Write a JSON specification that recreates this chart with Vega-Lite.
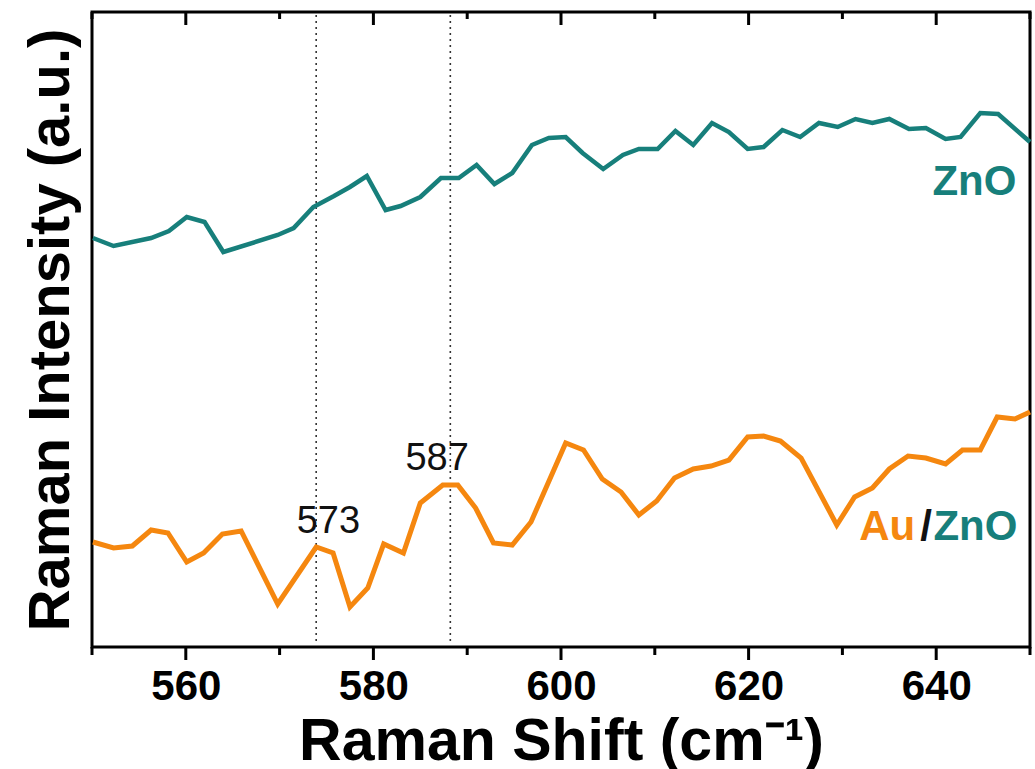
{
  "$schema": "https://vega.github.io/schema/vega-lite/v6.json",
  "width": 938,
  "height": 635,
  "autosize": "none",
  "padding": {"left": 92, "top": 12, "right": 5, "bottom": 122},
  "background": "white",
  "config": {
    "view": {"stroke": "#000", "strokeWidth": 3},
    "font": "Liberation Sans"
  },
  "datasets": {
    "spectra": [
      {"shift": 550.1, "intensity": 409, "sample": "ZnO"},
      {"shift": 552.3, "intensity": 401, "sample": "ZnO"},
      {"shift": 556.3, "intensity": 409, "sample": "ZnO"},
      {"shift": 558.2, "intensity": 416, "sample": "ZnO"},
      {"shift": 560.1, "intensity": 430, "sample": "ZnO"},
      {"shift": 562.0, "intensity": 425, "sample": "ZnO"},
      {"shift": 564.0, "intensity": 395, "sample": "ZnO"},
      {"shift": 569.8, "intensity": 412, "sample": "ZnO"},
      {"shift": 571.5, "intensity": 419, "sample": "ZnO"},
      {"shift": 573.6, "intensity": 440, "sample": "ZnO"},
      {"shift": 575.8, "intensity": 451, "sample": "ZnO"},
      {"shift": 577.5, "intensity": 460, "sample": "ZnO"},
      {"shift": 579.3, "intensity": 471, "sample": "ZnO"},
      {"shift": 581.3, "intensity": 437, "sample": "ZnO"},
      {"shift": 582.9, "intensity": 441, "sample": "ZnO"},
      {"shift": 585.0, "intensity": 450, "sample": "ZnO"},
      {"shift": 587.2, "intensity": 469, "sample": "ZnO"},
      {"shift": 589.1, "intensity": 469, "sample": "ZnO"},
      {"shift": 591.0, "intensity": 482, "sample": "ZnO"},
      {"shift": 592.9, "intensity": 463, "sample": "ZnO"},
      {"shift": 594.8, "intensity": 474, "sample": "ZnO"},
      {"shift": 596.9, "intensity": 502, "sample": "ZnO"},
      {"shift": 598.7, "intensity": 509, "sample": "ZnO"},
      {"shift": 600.5, "intensity": 510, "sample": "ZnO"},
      {"shift": 602.3, "intensity": 494, "sample": "ZnO"},
      {"shift": 604.5, "intensity": 478, "sample": "ZnO"},
      {"shift": 606.6, "intensity": 492, "sample": "ZnO"},
      {"shift": 608.3, "intensity": 498, "sample": "ZnO"},
      {"shift": 610.3, "intensity": 498, "sample": "ZnO"},
      {"shift": 612.2, "intensity": 516, "sample": "ZnO"},
      {"shift": 614.1, "intensity": 502, "sample": "ZnO"},
      {"shift": 616.1, "intensity": 524, "sample": "ZnO"},
      {"shift": 617.9, "intensity": 515, "sample": "ZnO"},
      {"shift": 619.9, "intensity": 498, "sample": "ZnO"},
      {"shift": 621.6, "intensity": 500, "sample": "ZnO"},
      {"shift": 623.6, "intensity": 517, "sample": "ZnO"},
      {"shift": 625.5, "intensity": 510, "sample": "ZnO"},
      {"shift": 627.5, "intensity": 524, "sample": "ZnO"},
      {"shift": 629.5, "intensity": 520, "sample": "ZnO"},
      {"shift": 631.4, "intensity": 528, "sample": "ZnO"},
      {"shift": 633.2, "intensity": 524, "sample": "ZnO"},
      {"shift": 635.0, "intensity": 528, "sample": "ZnO"},
      {"shift": 637.1, "intensity": 518, "sample": "ZnO"},
      {"shift": 638.9, "intensity": 519, "sample": "ZnO"},
      {"shift": 641.0, "intensity": 508, "sample": "ZnO"},
      {"shift": 642.6, "intensity": 510, "sample": "ZnO"},
      {"shift": 644.7, "intensity": 534, "sample": "ZnO"},
      {"shift": 646.6, "intensity": 533, "sample": "ZnO"},
      {"shift": 650.0, "intensity": 505, "sample": "ZnO"},
      {"shift": 550.1, "intensity": 105, "sample": "Au/ZnO"},
      {"shift": 552.3, "intensity": 99, "sample": "Au/ZnO"},
      {"shift": 554.3, "intensity": 101, "sample": "Au/ZnO"},
      {"shift": 556.3, "intensity": 117, "sample": "Au/ZnO"},
      {"shift": 558.1, "intensity": 114, "sample": "Au/ZnO"},
      {"shift": 560.1, "intensity": 85, "sample": "Au/ZnO"},
      {"shift": 561.9, "intensity": 94, "sample": "Au/ZnO"},
      {"shift": 563.9, "intensity": 113, "sample": "Au/ZnO"},
      {"shift": 565.9, "intensity": 116, "sample": "Au/ZnO"},
      {"shift": 569.8, "intensity": 43, "sample": "Au/ZnO"},
      {"shift": 573.9, "intensity": 100, "sample": "Au/ZnO"},
      {"shift": 575.7, "intensity": 94, "sample": "Au/ZnO"},
      {"shift": 577.5, "intensity": 40, "sample": "Au/ZnO"},
      {"shift": 579.4, "intensity": 59, "sample": "Au/ZnO"},
      {"shift": 581.1, "intensity": 103, "sample": "Au/ZnO"},
      {"shift": 583.2, "intensity": 94, "sample": "Au/ZnO"},
      {"shift": 585.0, "intensity": 144, "sample": "Au/ZnO"},
      {"shift": 587.4, "intensity": 162, "sample": "Au/ZnO"},
      {"shift": 589.0, "intensity": 162, "sample": "Au/ZnO"},
      {"shift": 590.9, "intensity": 139, "sample": "Au/ZnO"},
      {"shift": 592.8, "intensity": 104, "sample": "Au/ZnO"},
      {"shift": 594.8, "intensity": 102, "sample": "Au/ZnO"},
      {"shift": 596.8, "intensity": 125, "sample": "Au/ZnO"},
      {"shift": 600.5, "intensity": 204, "sample": "Au/ZnO"},
      {"shift": 602.4, "intensity": 197, "sample": "Au/ZnO"},
      {"shift": 604.4, "intensity": 168, "sample": "Au/ZnO"},
      {"shift": 606.4, "intensity": 155, "sample": "Au/ZnO"},
      {"shift": 608.3, "intensity": 132, "sample": "Au/ZnO"},
      {"shift": 610.2, "intensity": 146, "sample": "Au/ZnO"},
      {"shift": 612.1, "intensity": 169, "sample": "Au/ZnO"},
      {"shift": 614.1, "intensity": 178, "sample": "Au/ZnO"},
      {"shift": 616.0, "intensity": 181, "sample": "Au/ZnO"},
      {"shift": 617.9, "intensity": 187, "sample": "Au/ZnO"},
      {"shift": 619.9, "intensity": 210, "sample": "Au/ZnO"},
      {"shift": 621.6, "intensity": 211, "sample": "Au/ZnO"},
      {"shift": 623.4, "intensity": 206, "sample": "Au/ZnO"},
      {"shift": 625.6, "intensity": 189, "sample": "Au/ZnO"},
      {"shift": 629.4, "intensity": 122, "sample": "Au/ZnO"},
      {"shift": 631.3, "intensity": 150, "sample": "Au/ZnO"},
      {"shift": 633.2, "intensity": 159, "sample": "Au/ZnO"},
      {"shift": 635.0, "intensity": 178, "sample": "Au/ZnO"},
      {"shift": 637.0, "intensity": 191, "sample": "Au/ZnO"},
      {"shift": 638.9, "intensity": 189, "sample": "Au/ZnO"},
      {"shift": 641.0, "intensity": 183, "sample": "Au/ZnO"},
      {"shift": 642.8, "intensity": 197, "sample": "Au/ZnO"},
      {"shift": 644.7, "intensity": 197, "sample": "Au/ZnO"},
      {"shift": 646.5, "intensity": 230, "sample": "Au/ZnO"},
      {"shift": 648.4, "intensity": 228, "sample": "Au/ZnO"},
      {"shift": 650.0, "intensity": 235, "sample": "Au/ZnO"}
    ],
    "peaks": [
      {"shift": 573.9, "lo": 6, "hi": 635},
      {"shift": 588.2, "lo": 6, "hi": 635}
    ],
    "peakLabels": [
      {"shift": 575.2, "intensity": 114, "text": "573"},
      {"shift": 586.8, "intensity": 177, "text": "587"}
    ],
    "axisTicks": [
      {"value": 550, "major": false}, {"value": 560, "major": true}, {"value": 570, "major": false},
      {"value": 580, "major": true}, {"value": 590, "major": false}, {"value": 600, "major": true},
      {"value": 610, "major": false}, {"value": 620, "major": true}, {"value": 630, "major": false},
      {"value": 640, "major": true}, {"value": 650, "major": false}
    ]
  },
  "layer": [
    {
      "data": {"name": "peaks"},
      "mark": {"type": "rule", "color": "#333", "strokeWidth": 1.6, "strokeDash": [2, 4]},
      "encoding": {
        "x": {
          "field": "shift", "type": "quantitative",
          "scale": {"domain": [550, 650], "nice": false, "zero": false},
          "axis": {
            "orient": "bottom",
            "values": [560, 580, 600, 620, 640],
            "domain": false,
            "grid": false,
            "ticks": false,
            "labelFont": "Liberation Sans",
            "labelFontWeight": "bold",
            "labelFontSize": 42,
            "labelColor": "#000",
            "labelPadding": 19,
            "labelFlush": false,
            "labelOverlap": false,
            "title": "Raman Shift (cm⁻¹)",
            "titleFont": "Liberation Sans",
            "titleFontWeight": "bold",
            "titleFontSize": 59,
            "titleColor": "#000",
            "titlePadding": 5
          }
        },
        "y": {
          "field": "lo", "type": "quantitative",
          "scale": {"domain": [0, 635], "nice": false, "zero": false},
          "axis": {
            "orient": "left",
            "domain": false,
            "ticks": false,
            "labels": false,
            "grid": false,
            "title": "Raman Intensity (a.u.)",
            "titleFont": "Liberation Sans",
            "titleFontWeight": "bold",
            "titleFontSize": 58,
            "titleColor": "#000",
            "titlePadding": 12
          }
        },
        "y2": {"field": "hi"}
      }
    },
    {
      "data": {"name": "axisTicks"},
      "transform": [{"filter": "datum.major"}],
      "mark": {"type": "rule", "color": "#000", "strokeWidth": 3},
      "encoding": {
        "x": {"field": "value", "type": "quantitative"},
        "y": {"datum": 635, "type": "quantitative"},
        "y2": {"datum": 622}
      }
    },
    {
      "data": {"name": "axisTicks"},
      "transform": [{"filter": "!datum.major"}],
      "mark": {"type": "rule", "color": "#000", "strokeWidth": 3},
      "encoding": {
        "x": {"field": "value", "type": "quantitative"},
        "y": {"datum": 635, "type": "quantitative"},
        "y2": {"datum": 628}
      }
    },
    {
      "data": {"name": "axisTicks"},
      "transform": [{"filter": "datum.major"}],
      "mark": {"type": "rule", "color": "#000", "strokeWidth": 3},
      "encoding": {
        "x": {"field": "value", "type": "quantitative"},
        "y": {"datum": 0, "type": "quantitative"},
        "y2": {"datum": -13}
      }
    },
    {
      "data": {"name": "axisTicks"},
      "transform": [{"filter": "!datum.major"}],
      "mark": {"type": "rule", "color": "#000", "strokeWidth": 3},
      "encoding": {
        "x": {"field": "value", "type": "quantitative"},
        "y": {"datum": 0, "type": "quantitative"},
        "y2": {"datum": -8}
      }
    },
    {
      "data": {"name": "spectra"},
      "transform": [{"filter": "datum.sample == 'ZnO'"}],
      "mark": {"type": "line", "color": "#177f7b", "strokeWidth": 4.5, "strokeJoin": "miter"},
      "encoding": {
        "x": {"field": "shift", "type": "quantitative"},
        "y": {"field": "intensity", "type": "quantitative"}
      }
    },
    {
      "data": {"name": "spectra"},
      "transform": [{"filter": "datum.sample == 'Au/ZnO'"}],
      "mark": {"type": "line", "color": "#f5870f", "strokeWidth": 5, "strokeJoin": "miter"},
      "encoding": {
        "x": {"field": "shift", "type": "quantitative"},
        "y": {"field": "intensity", "type": "quantitative"}
      }
    },
    {
      "data": {"name": "peakLabels"},
      "mark": {"type": "text", "font": "Liberation Sans", "fontSize": 38, "color": "#111", "align": "center", "baseline": "alphabetic"},
      "encoding": {
        "x": {"field": "shift", "type": "quantitative"},
        "y": {"field": "intensity", "type": "quantitative"},
        "text": {"field": "text"}
      }
    },
    {
      "data": {"values": [{"shift": 639.6, "intensity": 452, "text": "ZnO"}, {"shift": 639.7, "intensity": 107, "text": "ZnO"}]},
      "mark": {"type": "text", "font": "Liberation Sans", "fontWeight": "bold", "fontSize": 42, "color": "#177f7b", "align": "left", "baseline": "alphabetic"},
      "encoding": {
        "x": {"field": "shift", "type": "quantitative"},
        "y": {"field": "intensity", "type": "quantitative"},
        "text": {"field": "text"}
      }
    },
    {
      "data": {"values": [{"shift": 631.8, "intensity": 107, "text": "Au"}]},
      "mark": {"type": "text", "font": "Liberation Sans", "fontWeight": "bold", "fontSize": 42, "color": "#f5870f", "align": "left", "baseline": "alphabetic"},
      "encoding": {
        "x": {"field": "shift", "type": "quantitative"},
        "y": {"field": "intensity", "type": "quantitative"},
        "text": {"field": "text"}
      }
    },
    {
      "data": {"values": [{"shift": 638.3, "intensity": 107, "text": "/"}]},
      "mark": {"type": "text", "font": "Liberation Sans", "fontWeight": "bold", "fontSize": 42, "color": "#111", "align": "left", "baseline": "alphabetic"},
      "encoding": {
        "x": {"field": "shift", "type": "quantitative"},
        "y": {"field": "intensity", "type": "quantitative"},
        "text": {"field": "text"}
      }
    }
  ]
}
